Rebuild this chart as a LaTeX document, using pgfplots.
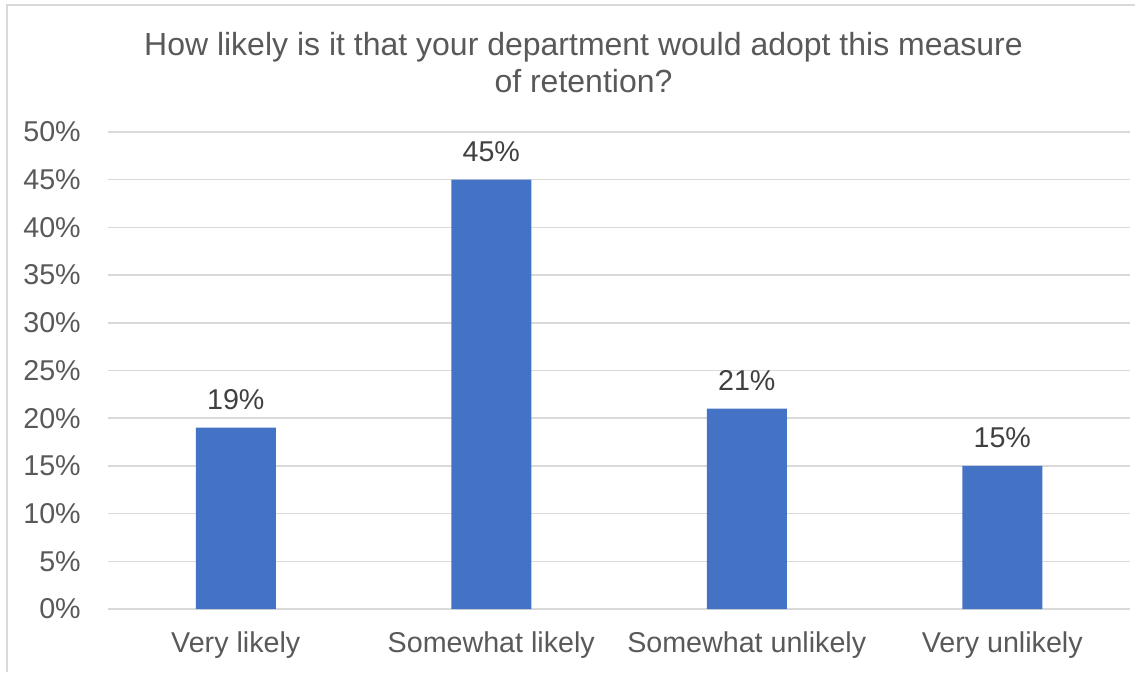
\documentclass[border=0pt]{standalone}
\usepackage{pgfplots}
\pgfplotsset{compat=1.18}
\usepackage{fontspec}
\setmainfont{Liberation Sans}
\definecolor{barblue}{HTML}{4472C4}
\definecolor{txtgray}{HTML}{595959}
\definecolor{lblgray}{HTML}{404040}
\definecolor{gridgray}{HTML}{D9D9D9}
\begin{document}
\begin{tikzpicture}
\path[use as bounding box] (0,0) rectangle (858.75pt,504pt);
% frame (left and top edges visible)
\draw[gridgray, line width=1.1pt] (5.25pt,0pt) -- (5.25pt,500.25pt) -- (851.25pt,500.25pt);
% title
\node[anchor=base, text=txtgray, inner sep=0pt, font=\fontsize{24}{28}\selectfont] at (437.6pt,462pt) {How likely is it that your department would adopt this measure};
\node[anchor=base, text=txtgray, inner sep=0pt, font=\fontsize{24}{28}\selectfont] at (437.6pt,434.5pt) {of retention?};
\begin{axis}[
  at={(81pt,47.25pt)}, anchor=south west,
  scale only axis,
  width=766.5pt, height=357.75pt,
  ybar, bar width=60pt,
  xmin=-0.5, xmax=3.5,
  ymin=0, ymax=50,
  ytick={0,5,...,50},
  xtick=data,
  xticklabels={Very likely, Somewhat likely, Somewhat unlikely, Very unlikely},
  axis line style={draw=none},
  major tick length=0pt,
  ymajorgrids,
  grid style={gridgray, line width=1.2pt},
  /pgf/number format/assume math mode=true,
  yticklabel={\pgfmathprintnumber{\tick}\%},
  yticklabel style={anchor=east, inner sep=0pt, xshift=-20.25pt, text=txtgray, font=\fontsize{21.5}{25}\selectfont},
  xticklabel style={anchor=north, inner sep=0pt, yshift=-17pt, text=txtgray, font=\fontsize{21.5}{25}\selectfont},
  nodes near coords={\pgfmathprintnumber{\pgfplotspointmeta}\%},
  nodes near coords style={anchor=base, inner sep=0pt, yshift=13.5pt, text=lblgray, font=\fontsize{21.5}{25}\selectfont},
  clip=false,
]
\addplot[fill=barblue, draw=none] coordinates {(0,19) (1,45) (2,21) (3,15)};
\end{axis}
\end{tikzpicture}
\end{document}
